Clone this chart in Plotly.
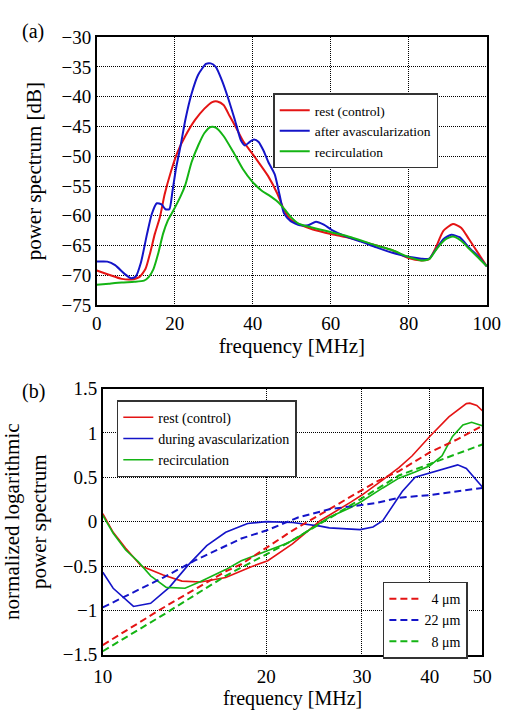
import plotly.graph_objects as go

# ---------------- panel (a): power spectra in dB ----------------
rest_f = [0, 3.1, 6.4, 8.8, 10.9, 12.5, 13.7, 14.9, 16.2, 17.4, 19.0, 20.7, 22.7, 25.2,
          27.6, 29.6, 30.9, 32.5, 34.1, 35.8, 37.4, 39.0, 40.7, 43.9, 46.3, 48.0, 49.6,
          52.1, 55.4, 60.3, 65.2, 71.7, 75.8, 79.9, 83.2, 85.2, 86.8, 88.9, 91.3, 93.4,
          95.4, 97.9, 100]
rest_db = [-69.2, -69.9, -70.6, -70.7, -70.3, -68.9, -66.2, -63.0, -60.2, -56.4, -52.6,
           -49.3, -46.6, -43.9, -42.0, -40.9, -40.8, -41.4, -43.3, -45.3, -47.3, -48.8,
           -50.3, -53.3, -56.3, -59.0, -60.6, -61.5, -62.3, -63.1, -63.8, -65.0, -65.8,
           -67.1, -67.5, -67.3, -65.5, -62.5, -61.4, -62.0, -63.9, -66.4, -68.5]

after_f = [0, 2.7, 4.7, 7.2, 8.8, 10.0, 11.3, 12.9, 14.1, 15.4, 16.6, 17.6, 18.6, 19.4,
           20.3, 21.5, 22.7, 24.3, 26.0, 28.0, 29.2, 30.5, 32.1, 33.7, 35.4, 37.0, 38.0,
           39.0, 40.3, 41.5, 42.7, 44.0, 45.6, 46.8, 48.0, 49.7, 52.1, 54.2, 56.2, 58.2,
           60.3, 63.6, 67.6, 71.7, 75.8, 79.9, 83.2, 85.2, 86.8, 88.9, 90.9, 93.0, 95.4,
           97.9, 100]
after_db = [-67.7, -67.7, -68.3, -69.8, -70.5, -70.2, -67.9, -63.0, -59.7, -57.9, -58.1,
            -58.9, -58.9, -55.9, -52.1, -48.2, -43.9, -39.5, -36.3, -34.5, -34.4, -35.0,
            -37.3, -40.3, -43.9, -47.4, -48.2, -47.7, -47.2, -47.6, -49.0, -51.0, -53.0,
            -56.3, -59.6, -60.9, -61.6, -61.6, -61.0, -61.5, -62.4, -63.4, -64.3, -65.3,
            -66.2, -66.9, -67.2, -67.2, -65.8, -63.9, -63.2, -63.6, -65.3, -66.9, -68.5]

recirc_f = [0, 3.1, 6.4, 9.6, 12.1, 13.3, 14.5, 15.8, 17.0, 18.2, 19.8, 21.5, 22.7, 24.3,
            26.0, 27.6, 29.2, 30.5, 32.5, 35.0, 37.4, 39.9, 42.3, 44.0, 46.3, 48.0, 49.6,
            51.7, 55.4, 60.3, 65.2, 71.7, 75.8, 79.9, 83.2, 85.2, 87.2, 89.3, 91.3, 93.4,
            95.4, 97.9, 100]
recirc_db = [-71.6, -71.4, -71.2, -71.1, -70.9, -70.3, -69.0, -66.2, -63.0, -60.8, -58.9,
             -56.7, -54.8, -51.0, -48.2, -46.1, -45.1, -45.2, -46.6, -49.3, -52.1, -54.3,
             -55.8, -56.5, -57.6, -58.8, -60.1, -61.3, -62.0, -62.8, -63.6, -65.0, -65.8,
             -66.9, -67.5, -67.3, -65.5, -64.0, -63.5, -64.2, -65.5, -67.1, -68.5]

# ---------------- panel (b): normalized log power spectra ----------------
rest_b_f = [10.0, 10.45, 11.02, 11.77, 12.92, 13.99, 15.14, 16.84, 18.72, 20.13, 22.35,
            25.13, 28.62, 30.0, 32.78, 35.10, 37.10, 40.0, 43.38, 46.72, 47.41, 48.84, 50.0]
rest_b = [0.09, -0.12, -0.30, -0.50, -0.60, -0.67, -0.68, -0.63, -0.51, -0.44, -0.25,
          0.01, 0.22, 0.30, 0.47, 0.61, 0.74, 0.96, 1.18, 1.33, 1.335, 1.31, 1.25]

during_b_f = [10.0, 10.45, 11.39, 12.25, 13.26, 14.36, 15.54, 16.84, 17.99, 18.48, 20.0,
              22.35, 25.13, 26.13, 29.77, 31.45, 32.78, 33.69, 35.60, 37.60, 40.0, 42.75,
              45.03, 46.72, 48.84, 50.0]
during_b = [-0.57, -0.75, -0.955, -0.92, -0.74, -0.49, -0.27, -0.12, -0.05, -0.02, 0.0,
            -0.01, -0.05, -0.07, -0.09, -0.06, 0.01, 0.12, 0.34, 0.50, 0.55, 0.60, 0.64,
            0.60, 0.47, 0.39]

recirc_b_f = [10.0, 10.45, 11.02, 11.62, 12.25, 13.09, 14.17, 15.14, 16.84, 17.99, 20.26,
              21.91, 22.94, 26.13, 28.62, 30.0, 32.78, 35.10, 37.60, 40.0, 42.13, 44.05,
              46.04, 47.77, 50.0]
recirc_b = [0.07, -0.13, -0.32, -0.45, -0.61, -0.74, -0.75, -0.675, -0.54, -0.44, -0.32,
            -0.24, -0.17, 0.05, 0.16, 0.23, 0.38, 0.49, 0.56, 0.63, 0.74, 0.96, 1.09,
            1.12, 1.08]

# scatterer-size model curves
fit4_f = [10.0, 12.92, 16.84, 17.99, 19.61, 22.35, 25.79, 30.0, 31.88, 35.10, 40.0, 44.70, 50.0]
fit4 = [-1.39, -0.97, -0.56, -0.48, -0.33, -0.10, 0.12, 0.36, 0.45, 0.57, 0.78, 0.92, 1.08]

fit22_f = [10.0, 12.92, 14.75, 17.99, 20.0, 22.94, 26.13, 30.0, 31.88, 35.10, 40.0, 50.0]
fit22 = [-0.966, -0.63, -0.44, -0.19, -0.10, 0.05, 0.14, 0.19, 0.21, 0.27, 0.30, 0.38]

fit8_f = [10.0, 12.92, 16.84, 19.61, 21.91, 26.82, 30.0, 35.10, 40.0, 44.70, 50.0]
fit8 = [-1.46, -1.05, -0.61, -0.40, -0.24, 0.08, 0.26, 0.52, 0.65, 0.76, 0.87]

ticks_a_x = [0, 20, 40, 60, 80, 100]
ticks_a_y = [-75, -70, -65, -60, -55, -50, -45, -40, -35, -30]
ticks_b_x = [10, 20, 30, 40, 50]
ticks_b_y = [-1.5, -1, -0.5, 0, 0.5, 1, 1.5]

RED, BLUE, GREEN = "#e41414", "#1414c8", "#14b414"
SERIF = "Liberation Serif, Times New Roman, Times, serif"
W, H = 518, 715

fig = go.Figure()

# panel (a)
for fx, fy, nm, col in [(rest_f, rest_db, "rest (control)", RED),
                        (after_f, after_db, "after avascularization", BLUE),
                        (recirc_f, recirc_db, "recirculation", GREEN)]:
    fig.add_trace(go.Scatter(x=fx, y=fy, mode="lines", name=nm,
                             line=dict(color=col, width=2, shape="spline", smoothing=0.6),
                             xaxis="x", yaxis="y", legend="legend"))

# panel (b) measured spectra
for fx, fy, nm, col in [(rest_b_f, rest_b, "rest (control)", RED),
                        (during_b_f, during_b, "during avascularization", BLUE),
                        (recirc_b_f, recirc_b, "recirculation", GREEN)]:
    fig.add_trace(go.Scatter(x=fx, y=fy, mode="lines", name=nm,
                             line=dict(color=col, width=1.6),
                             xaxis="x2", yaxis="y2", legend="legend2"))

# panel (b) model curves
FS = "\u2007"
for fx, fy, nm, col in [(fit4_f, fit4, FS + "4 \u03bcm", RED),
                        (fit22_f, fit22, "22 \u03bcm", BLUE),
                        (fit8_f, fit8, FS + "8 \u03bcm", GREEN)]:
    fig.add_trace(go.Scatter(x=fx, y=fy, mode="lines", name=nm,
                             line=dict(color=col, width=2, dash="7px,4px"),
                             xaxis="x2", yaxis="y2", legend="legend3"))

axis_common = dict(
    showline=True, mirror=True, linecolor="black", linewidth=1.5,
    showgrid=True, gridcolor="black", gridwidth=1, griddash="1px,1px",
    zeroline=False, ticks="",
)
tick_a = dict(family=SERIF, size=19, color="black")
tick_b = dict(family=SERIF, size=19, color="black")
title_font = dict(family=SERIF, size=21, color="black")
title_font_b = dict(family=SERIF, size=20, color="black")

legend_common = dict(
    xanchor="left", yanchor="top", bgcolor="white",
    bordercolor="#333333", borderwidth=1.5,
    tracegroupgap=0,
)

fig.update_layout(
    width=W, height=H,
    margin=dict(l=0, r=0, t=0, b=0),
    paper_bgcolor="white", plot_bgcolor="white",
    font=dict(family=SERIF, color="black"),
    xaxis=dict(axis_common, domain=[91 / W, 500 / W], anchor="y",
               range=[0, 100], tickvals=ticks_a_x, tickfont=tick_a,
               title=dict(text="frequency [MHz]", font=title_font, standoff=4)),
    yaxis=dict(axis_common, domain=[1 - 304 / H, 1 - 28 / H], anchor="x",
               range=[-75, -30], tickvals=ticks_a_y, tickfont=tick_a,
               title=dict(text="power spectrum [dB]", font=title_font, standoff=14)),
    xaxis2=dict(axis_common, domain=[97.3 / W, 495.3 / W], anchor="y2",
                type="log", range=[1, 1.69897], tickvals=ticks_b_x,
                ticktext=[str(v) for v in ticks_b_x], ticklabelstandoff=4,
                tickfont=tick_b,
                title=dict(text="frequency [MHz]", font=title_font_b, standoff=3)),
    yaxis2=dict(axis_common, domain=[1 - 664.3 / H, 1 - 390 / H], anchor="x2",
                range=[-1.5, 1.5], tickvals=ticks_b_y, tickfont=tick_b,
                ticktext=["\u22121.5", "\u22121", "\u22120.5", "0", "0.5", "1", "1.5"],
                title=dict(text="normalized logarithmic<br>power spectrum",
                           font=title_font, standoff=14)),
    legend=dict(legend_common, x=276 / W, y=1 - 86 / H,
                font=dict(family=SERIF, size=13.5, color="black")),
    legend2=dict(legend_common, x=112 / W, y=1 - 402 / H,
                 font=dict(family=SERIF, size=14, color="black")),
    legend3=dict(legend_common, x=391 / W, y=1 - 589 / H,
                 font=dict(family=SERIF, size=14, color="black")),
    annotations=[
        dict(text="(a)", x=10 / W, y=1 - 8 / H, xref="paper", yref="paper",
             xanchor="left", yanchor="top", showarrow=False,
             font=dict(family=SERIF, size=20, color="black")),
        dict(text="(b)", x=10 / W, y=1 - 379 / H, xref="paper", yref="paper",
             xanchor="left", yanchor="top", showarrow=False,
             font=dict(family=SERIF, size=20, color="black")),
    ],
)

fig.write_html("out.html")
